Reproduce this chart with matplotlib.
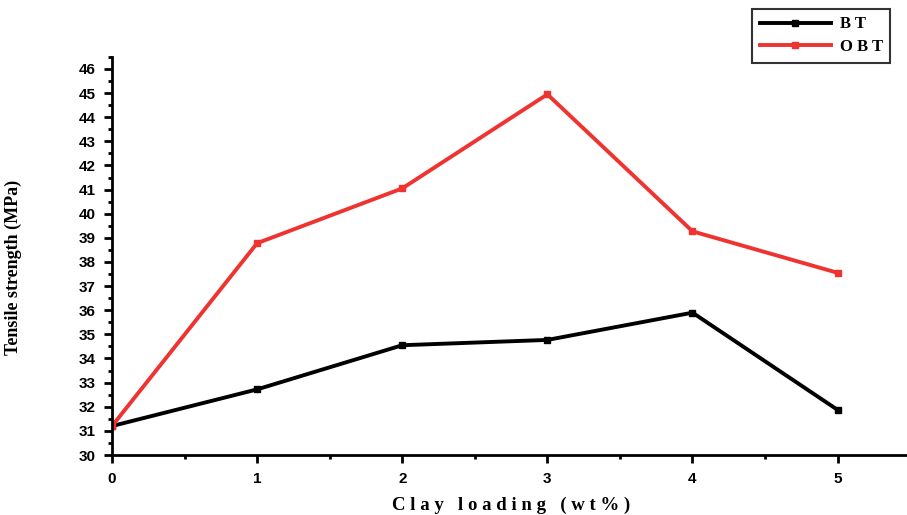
import matplotlib.pyplot as plt
from matplotlib.ticker import MultipleLocator

clay = [0, 1, 2, 3, 4, 5]
bt = [31.2, 32.72, 34.55, 34.77, 35.9, 31.87]
obt = [31.2, 38.78, 41.05, 44.95, 39.27, 37.55]

fig = plt.figure(figsize=(9.07, 5.15), dpi=100)
ax = fig.add_axes([0.1235, 0.1165, 0.88, 0.773])

ax.plot(clay, bt, color='black', linewidth=2.8, marker='s', markersize=5, label='B T')
ax.plot(clay, obt, color='#ee3330', linewidth=2.8, marker='s', markersize=5, label='O B T')

ax.set_xlim(0, 5.5)
ax.set_ylim(30, 46.5)
ax.xaxis.set_major_locator(MultipleLocator(1))
ax.xaxis.set_minor_locator(MultipleLocator(0.5))
ax.yaxis.set_major_locator(MultipleLocator(1))
ax.yaxis.set_minor_locator(MultipleLocator(0.5))

for side in ['top', 'right']:
    ax.spines[side].set_visible(False)
for side in ['left', 'bottom']:
    ax.spines[side].set_linewidth(2)

ax.tick_params(which='major', direction='out', length=6, width=2, labelsize=11, pad=6)
ax.tick_params(which='minor', direction='out', length=3, width=2)
for lab in ax.get_xticklabels() + ax.get_yticklabels():
    lab.set_fontweight('bold')
    lab.set_family('Liberation Sans')

ax.set_xlabel('C l a y   l o a d i n g   ( w t % )', fontfamily='Liberation Serif',
              fontweight='bold', fontsize=13.5, labelpad=8)
ax.set_ylabel('Tensile strength (MPa)', fontfamily='Liberation Serif',
              fontweight='bold', fontsize=13)
ax.yaxis.set_label_coords(-0.113, 0.47)

leg = fig.legend(loc='upper left', bbox_to_anchor=(752 / 907, 1 - 9 / 515),
                 prop={'family': 'Liberation Serif', 'weight': 'bold', 'size': 12},
                 frameon=True, fancybox=False, handlelength=4.3, borderpad=0.45,
                 labelspacing=0.4, borderaxespad=0, handletextpad=0.5)
leg.get_frame().set_edgecolor('black')
leg.get_frame().set_linewidth(1.5)

fig.savefig('out.png', dpi=100)
